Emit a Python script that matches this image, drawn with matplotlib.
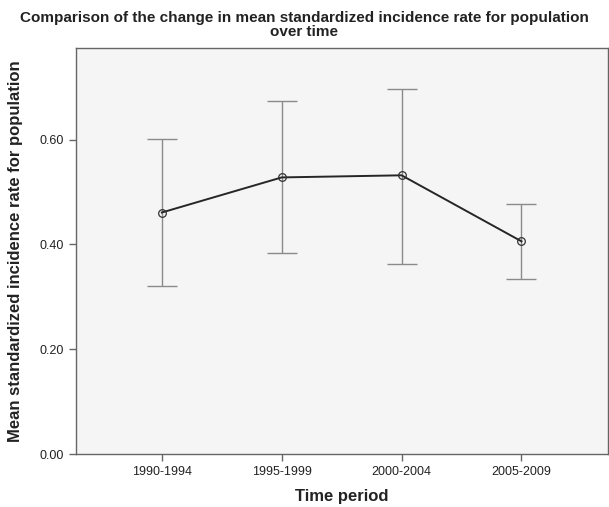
import matplotlib
matplotlib.use('Agg')
import matplotlib.pyplot as plt

# time periods and mean / 95% CI
periods = ["1990-1994", "1995-1999", "2000-2004", "2005-2009"]
means = [0.461, 0.528, 0.532, 0.406]
lower = [0.320, 0.383, 0.363, 0.334]
upper = [0.601, 0.673, 0.697, 0.477]
yticks = [0.00, 0.20, 0.40, 0.60]

plt.rcParams['font.family'] = ['Liberation Sans', 'DejaVu Sans']

fig = plt.figure(figsize=(6.09, 5.07), dpi=100)
ax = fig.add_axes([0.124, 0.1045, 0.874, 0.8008])
ax.set_facecolor('#f5f5f5')

x = list(range(len(periods)))
err_lo = [m - l for m, l in zip(means, lower)]
err_hi = [u - m for m, u in zip(means, upper)]
ax.errorbar(x, means, yerr=[err_lo, err_hi], fmt='none', ecolor='#8a8a8a',
            elinewidth=1.0, capsize=11, capthick=1.0, zorder=2)
ax.plot(x, means, color='#262626', lw=1.4, marker='o', ms=5.5,
        mfc='none', mec='#333333', mew=0.9, zorder=3)

ax.set_xlim(-0.72, 3.72)
ax.set_ylim(0, 0.775)
ax.set_xticks(x)
ax.set_xticklabels(periods)
ax.set_yticks(yticks)
ax.set_yticklabels(["%.2f" % v for v in yticks])
ax.tick_params(direction='out', length=5, width=1, colors='#666666',
               labelcolor='#222222', labelsize=9)
for s in ax.spines.values():
    s.set_color('#666666')
    s.set_linewidth(1.0)

ax.set_xlabel("Time period", fontsize=12, fontweight='bold', color='#222222', labelpad=8)
ax.set_ylabel("Mean standardized incidence rate for population", fontsize=12,
              fontweight='bold', color='#222222', labelpad=12)
fig.suptitle("Comparison of the change in mean standardized incidence rate for population\nover time",
             x=0.5, y=0.978, fontsize=11, fontweight='bold', color='#222222', linespacing=0.95)

fig.savefig('out.png', dpi=100)
